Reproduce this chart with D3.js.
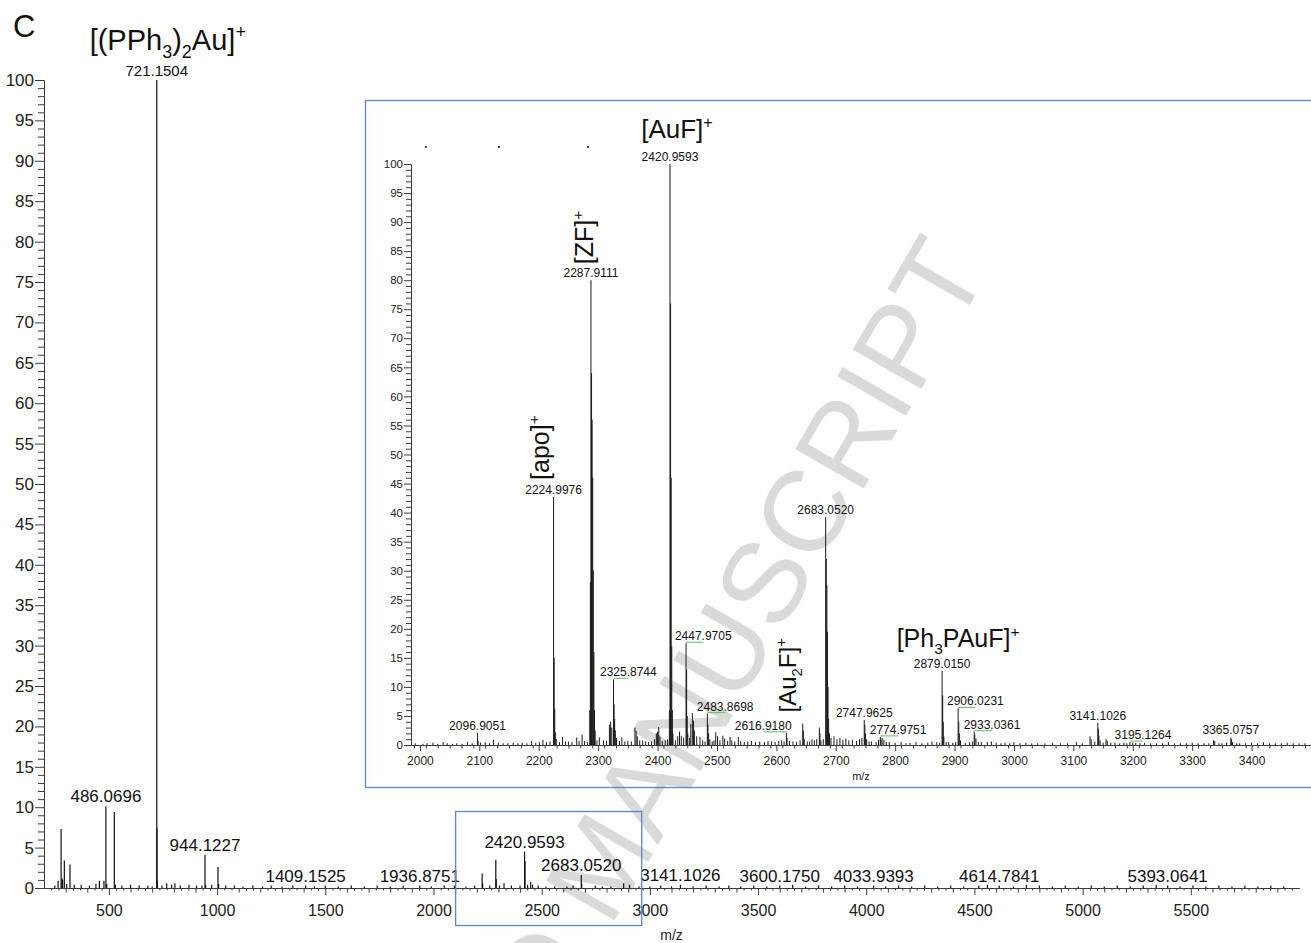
<!DOCTYPE html>
<html>
<head>
<meta charset="utf-8">
<script src="https://cdn.jsdelivr.net/npm/d3@7"></script>
<style>
body { margin: 0; background: #fff; }
svg { font-family: "Liberation Sans", Arial, sans-serif; display: block; }
</style>
</head>
<body>
<svg id="chart" width="1311" height="943"></svg>
<script>
// ---- main spectrum (m/z, relative intensity %) ----
const mainMz = [
  250, 265, 279, 283, 286, 294, 305, 320, 340, 372,
  410, 440, 456, 477, 486.0696, 490, 525, 530, 560, 600,
  640, 680, 700, 721.1504, 722.2, 723.5, 745, 767, 790, 805,
  830, 870, 905, 930, 944.1227, 947, 975, 1004, 1007, 1040,
  1080, 1120, 1165, 1210, 1250, 1300, 1350, 1409.1525, 1450, 1500,
  1560, 1620, 1680, 1740, 1800, 1860, 1936.8751, 1990, 2050, 2097,
  2150, 2190, 2225, 2227, 2260, 2288, 2290, 2305, 2326, 2360,
  2400, 2420.9593, 2423, 2435, 2449, 2458, 2484, 2520, 2560, 2617,
  2645, 2683.0520, 2685, 2748, 2780, 2820, 2879, 2906, 2950, 3000,
  3050, 3100, 3141.1026, 3200, 3260, 3320, 3365, 3420, 3480, 3540,
  3600.1750, 3660, 3720, 3780, 3840, 3900, 3960, 4033.9393, 4090, 4150,
  4210, 4270, 4330, 4390, 4450, 4520, 4560, 4614.7841, 4680, 4740,
  4800, 4860, 4920, 4980, 5040, 5100, 5160, 5220, 5280, 5340,
  5393.0641, 5450, 5510, 5570, 5630, 5690, 5750, 5810, 5870, 5930
];
const mainInt = [
  0.3, 0.9, 7.3, 1.2, 1.0, 3.4, 0.5, 2.9, 0.4, 0.4,
  0.3, 0.5, 0.9, 0.9, 10.1, 0.5, 9.4, 0.4, 0.3, 0.4,
  0.3, 0.3, 0.2, 100, 7.4, 0.9, 0.3, 0.6, 0.4, 0.6,
  0.3, 0.4, 0.3, 0.3, 4.1, 0.4, 0.4, 2.6, 0.5, 0.3,
  0.3, 0.2, 0.3, 0.2, 0.3, 0.2, 0.3, 0.3, 0.2, 0.3,
  0.2, 0.3, 0.2, 0.3, 0.2, 0.3, 0.3, 0.2, 0.3, 0.3,
  0.2, 0.3, 1.8, 0.6, 0.3, 3.5, 1.1, 0.3, 0.6, 0.3,
  0.3, 4.5, 3.3, 0.4, 0.7, 0.4, 0.3, 0.2, 0.2, 0.2,
  0.3, 1.6, 0.5, 0.3, 0.2, 0.2, 0.6, 0.4, 0.2, 0.2,
  0.3, 0.2, 0.4, 0.2, 0.3, 0.2, 0.3, 0.2, 0.3, 0.2,
  0.3, 0.4, 0.2, 0.3, 0.2, 0.3, 0.2, 0.3, 0.2, 0.3,
  0.2, 0.3, 0.2, 0.3, 0.2, 0.3, 0.4, 0.3, 0.2, 0.4,
  0.3, 0.2, 0.3, 0.2, 0.3, 0.2, 0.3, 0.2, 0.3, 0.4,
  0.3, 0.2, 0.3, 0.2, 0.3, 0.2, 0.3, 0.2, 0.3, 0.2
];
const mainLabels = ["721.1504", "486.0696", "944.1227", "1409.1525", "1936.8751", "2420.9593",
  "2683.0520", "3141.1026", "3600.1750", "4033.9393", "4614.7841", "5393.0641"];
const mainXTicks = [500, 1000, 1500, 2000, 2500, 3000, 3500, 4000, 4500, 5000, 5500];
const mainYTicks = [0, 5, 10, 15, 20, 25, 30, 35, 40, 45, 50, 55, 60, 65, 70, 75, 80, 85, 90, 95, 100];

// ---- inset: zoom 2000-3500 ----
const insetMz = [
  1992, 2005, 2012, 2022, 2030, 2039, 2046, 2055, 2062, 2071,
  2080, 2088, 2096.9051, 2098, 2102, 2110, 2117, 2124, 2132, 2140,
  2148, 2157, 2165, 2172, 2180, 2188, 2195, 2201, 2207, 2213,
  2219, 2224.9976, 2226, 2227, 2228, 2229.5, 2235, 2240, 2245, 2250,
  2256, 2264, 2268, 2273, 2277, 2282, 2285.9, 2286.9, 2287.9111, 2288.9,
  2289.9, 2290.9, 2291.9, 2292.9, 2293.9, 2295, 2298, 2302, 2309, 2314,
  2319, 2321, 2323, 2325.8744, 2326.9, 2327.9, 2329, 2331, 2336, 2340,
  2345, 2350, 2356, 2362, 2364, 2366, 2370, 2375, 2380, 2385,
  2390, 2395, 2398, 2400, 2402, 2404, 2408, 2413, 2417, 2419.96,
  2420.9593, 2421.96, 2422.96, 2423.96, 2424.96, 2426, 2430, 2434, 2437, 2440,
  2444, 2447.9705, 2448.97, 2449.97, 2451, 2454, 2456, 2458.6, 2460.6, 2462,
  2466, 2471.5, 2476, 2480, 2483.8698, 2484.87, 2486, 2488, 2492, 2495,
  2498, 2501, 2505, 2510, 2513, 2518, 2522, 2525, 2530, 2536,
  2540, 2546, 2552, 2558, 2565, 2572, 2580, 2586, 2592, 2598,
  2604, 2609, 2613, 2616.918, 2618, 2622, 2628, 2634, 2640, 2644.4,
  2645.4, 2647, 2652, 2656, 2660, 2664, 2668, 2672.4, 2673.4, 2675,
  2679, 2683.052, 2684.05, 2685.05, 2686.05, 2687.05, 2688, 2689.5, 2692, 2697,
  2702, 2707, 2712, 2717, 2722, 2728, 2735, 2740, 2744, 2747.9625,
  2748.96, 2750, 2752, 2756, 2760, 2768, 2772, 2774.9751, 2776, 2778,
  2781, 2785, 2790, 2800, 2810, 2818, 2825, 2835, 2845, 2855,
  2862, 2870, 2875, 2879.015, 2880.02, 2881, 2882, 2886, 2890, 2897,
  2902, 2906.0231, 2907.02, 2908, 2910, 2918, 2925, 2930, 2933.0361, 2934,
  2936, 2940, 2945, 2955, 2962, 2970, 2978, 2985, 2993, 3000,
  3010, 3020, 3030, 3040, 3052, 3065, 3078, 3090, 3105, 3115,
  3128, 3130, 3136, 3141.1026, 3142.1, 3143, 3145, 3150, 3155, 3157,
  3163, 3170, 3178, 3185, 3190, 3195.1264, 3200, 3205, 3212, 3220,
  3230, 3240, 3250, 3260, 3270, 3280, 3290, 3300, 3310, 3320,
  3328, 3336, 3338, 3345, 3350, 3358, 3365.0757, 3366, 3368, 3375,
  3380, 3390, 3400, 3410, 3420, 3430, 3440, 3450, 3460, 3470,
  3480, 3490
];
const insetInt = [
  0.3, 0.2, 0.3, 0.4, 0.2, 0.5, 0.3, 0.2, 0.3, 0.2,
  0.5, 0.3, 2.1, 0.7, 0.4, 0.5, 0.3, 0.9, 0.4, 0.3,
  0.3, 0.4, 0.3, 0.4, 0.3, 0.7, 0.4, 0.5, 0.9, 0.5,
  0.6, 42.7, 15, 6.2, 2.2, 1, 0.5, 1.4, 0.6, 0.6,
  0.5, 1.3, 0.7, 1.8, 0.7, 0.5, 6, 28, 80, 64,
  56, 46, 30, 16, 6, 2.5, 0.8, 1.3, 0.8, 0.7,
  3.5, 4, 3, 11.3, 7, 4.5, 2.5, 1.2, 0.7, 1.3,
  0.6, 0.7, 0.6, 3, 2.4, 1.5, 0.8, 0.8, 0.6, 0.5,
  0.6, 1, 2, 2.3, 3.1, 1.5, 0.7, 0.8, 1, 6,
  100, 76, 46, 17, 6, 2, 0.8, 1.5, 2.3, 1.6,
  1.3, 17.5, 13, 5, 2, 1.2, 3.6, 5.5, 4.2, 2.5,
  1.5, 1.4, 0.8, 0.6, 5.4, 3.5, 2, 1, 0.6, 0.8,
  2.2, 1.5, 0.8, 1.6, 1.1, 0.7, 1.4, 0.8, 0.6, 1.4,
  0.7, 0.5, 0.6, 0.7, 0.5, 0.6, 0.5, 0.7, 0.6, 0.5,
  0.7, 0.8, 0.6, 2.1, 1.2, 0.7, 0.6, 0.5, 0.8, 3.7,
  2.5, 1, 0.6, 0.6, 1, 0.8, 1, 3, 2, 0.8,
  1, 39.2, 32, 27.5, 19.5, 10, 4.5, 2, 1.2, 1.5,
  1, 1.2, 0.9, 1.1, 0.8, 0.9, 0.7, 1, 1.2, 4.3,
  3.5, 2, 1, 0.6, 0.6, 0.5, 0.9, 1.4, 1, 1.2,
  0.9, 0.5, 0.5, 0.4, 0.5, 0.3, 0.4, 0.5, 0.3, 0.4,
  0.6, 0.5, 0.4, 12.8, 8.5, 4, 1.5, 0.5, 0.5, 0.4,
  0.5, 6.3, 4, 2, 0.8, 0.4, 0.5, 0.6, 2.3, 1.8,
  1.1, 0.5, 0.5, 0.5, 0.6, 0.4, 0.3, 0.4, 0.3, 0.5,
  0.3, 0.4, 0.3, 0.3, 0.3, 0.4, 0.3, 0.3, 0.5, 0.3,
  1.5, 1, 0.6, 3.8, 2.8, 1.6, 0.8, 0.4, 1, 0.7,
  0.4, 0.4, 0.3, 0.4, 0.3, 0.5, 0.4, 0.4, 0.3, 0.4,
  0.3, 0.3, 0.3, 0.5, 0.3, 0.3, 0.3, 0.4, 0.3, 0.3,
  0.3, 0.8, 0.7, 0.3, 0.3, 0.4, 1.3, 1, 0.5, 0.3,
  0.3, 0.3, 0.4, 0.3, 0.5, 0.3, 0.3, 0.3, 0.4, 0.3,
  0.3, 0.3
];
const insetLabels = ["2096.9051", "2224.9976", "2287.9111", "2325.8744", "2420.9593", "2447.9705",
  "2483.8698", "2616.9180", "2683.0520", "2747.9625", "2774.9751", "2879.0150", "2906.0231",
  "2933.0361", "3141.1026", "3195.1264", "3365.0757"];
// label offset from its peak, in m/z units (drawn with a green leader)
const insetLabelShift = [0, 0, 0, 25, 0, 29, 30, -39, 0, 0, 30, 0, 29, 30, 0, 22, 0];
const insetXTicks = [2000, 2100, 2200, 2300, 2400, 2500, 2600, 2700, 2800, 2900, 3000, 3100, 3200, 3300, 3400];
const insetYTicks = mainYTicks;
const insetMarkMz = [2010, 2133, 2283];

// ion annotations: [text, 0 normal / -1 sub / 1 sup]
const ionMain = [["[(PPh", 0], ["3", -1], [")", 0], ["2", -1], ["Au]", 0], ["+", 1]];
const ionAuF = [["[AuF]", 0], ["+", 1]];
const ionZF = [["[ZF]", 0], ["+", 1]];
const ionApo = [["[apo]", 0], ["+", 1]];
const ionAu2F = [["[Au", 0], ["2", -1], ["F]", 0], ["+", 1]];
const ionPh3 = [["[Ph", 0], ["3", -1], ["PAuF]", 0], ["+", 1]];

const svg = d3.select("#chart");
const ink = "#111";
const axisCol = "#3a3a3a";
const boxCol = "#5b87c8";
const fmt = d3.format("d");

// watermark sits behind everything
svg.append("text")
  .attr("transform", "translate(990,270) rotate(-60)")
  .attr("text-anchor", "end")
  .attr("font-size", 115)
  .attr("fill", "#dadada")
  .text("ACCEPTED MANUSCRIPT");

function styleAxis(g, fs, col) {
  g.attr("font-family", null).attr("font-size", fs);
  g.selectAll("path,line").attr("stroke", axisCol);
  g.selectAll("text").attr("fill", col || "#222");
}

function nearest(mzArr, v) {
  let best = 0;
  mzArr.forEach((m, i) => { if (Math.abs(m - v) < Math.abs(mzArr[best] - v)) best = i; });
  return best;
}

function addIon(g, parts, size) {
  const t = g.append("text").attr("font-size", size).attr("fill", ink);
  let shift = 0;
  parts.forEach(([s, k]) => {
    const fs = k === 0 ? size : size * 0.62;
    const target = k === -1 ? size * 0.28 : (k === 1 ? -size * 0.4 : 0);
    t.append("tspan").attr("font-size", fs).attr("dy", target - shift).text(s);
    shift = target;
  });
  return t;
}

// ===== main plot =====
const x = d3.scaleLinear().domain([200, 6000]).range([44, 1299]);
const y = d3.scaleLinear().domain([0, 100]).range([888, 80]);

// y axis
const yMinor = d3.range(0, 101).filter(v => v % 5);
svg.append("g").attr("transform", "translate(44,0)")
  .call(d3.axisLeft(y).tickValues(yMinor).tickSize(6).tickFormat("").tickSizeOuter(0))
  .call(g => styleAxis(g, 17));
svg.append("g").attr("transform", "translate(44,0)")
  .call(d3.axisLeft(y).tickValues(mainYTicks).tickSize(9).tickPadding(1).tickSizeOuter(0))
  .call(g => styleAxis(g, 17));

// x axis
const xMinor = d3.range(0, 175).map(i => 200 + i * 100 / 3).filter(v => Math.abs(v / 100 - Math.round(v / 100)) > 0.01);
const xMid = d3.range(300, 6001, 100).filter(v => v % 500);
svg.append("g").attr("transform", "translate(0,888)")
  .call(d3.axisBottom(x).tickValues(xMinor).tickSize(2.5).tickFormat("").tickSizeOuter(0))
  .call(g => styleAxis(g, 16));
svg.append("g").attr("transform", "translate(0,888)")
  .call(d3.axisBottom(x).tickValues(xMid).tickSize(4.5).tickFormat("").tickSizeOuter(0))
  .call(g => styleAxis(g, 16));
svg.append("g").attr("transform", "translate(0,888)")
  .call(d3.axisBottom(x).tickValues(mainXTicks).tickFormat(fmt).tickSize(7).tickPadding(10).tickSizeOuter(0))
  .call(g => styleAxis(g, 16));

svg.append("text").attr("x", (x.range()[0] + x.range()[1]) / 2).attr("y", 940)
  .attr("text-anchor", "middle").attr("font-size", 14).attr("fill", "#222").text("m/z");

// sticks
svg.append("g").selectAll("line").data(mainMz).join("line")
  .attr("x1", d => x(d)).attr("x2", d => x(d))
  .attr("y1", y(0)).attr("y2", (d, i) => y(mainInt[i]))
  .attr("stroke", ink).attr("stroke-width", 1.2);

// peak labels
svg.append("g").selectAll("text").data(mainLabels).join("text")
  .attr("x", d => x(+d))
  .attr("y", d => y(mainInt[nearest(mainMz, +d)]) - 4)
  .attr("text-anchor", "middle")
  .attr("font-size", (d, i) => i === 0 ? 15 : 17)
  .attr("fill", ink)
  .text(d => d);

// small box marking the zoomed region
svg.append("rect")
  .attr("x", x(2100) + 0.5).attr("y", 811.5)
  .attr("width", x(2960) - x(2100)).attr("height", 114)
  .attr("fill", "none").attr("stroke", boxCol).attr("stroke-width", 1.3);

// ===== inset =====
const xi = d3.scaleLinear().domain([1985, 3500]).range([411, 1311]);
const yi = d3.scaleLinear().domain([0, 100]).range([745, 164]);

svg.append("rect").attr("x", 365.5).attr("y", 100.5).attr("width", 960).attr("height", 687)
  .attr("fill", "none").attr("stroke", boxCol).attr("stroke-width", 1.3);

svg.append("g").selectAll("rect").data(insetMarkMz).join("rect")
  .attr("x", d => xi(d) - 1).attr("y", 146).attr("width", 2).attr("height", 2)
  .attr("fill", "#3b3ba8");

svg.append("g").attr("transform", "translate(411,0)")
  .call(d3.axisLeft(yi).tickValues(yMinor).tickSize(5).tickFormat("").tickSizeOuter(0))
  .call(g => styleAxis(g, 11.5));
svg.append("g").attr("transform", "translate(411,0)")
  .call(d3.axisLeft(yi).tickValues(insetYTicks).tickSize(7).tickPadding(1).tickSizeOuter(0))
  .call(g => styleAxis(g, 11.5));

const xiMinor = d3.range(1990, 3501, 20).filter(v => v % 100);
svg.append("g").attr("transform", "translate(0,745)")
  .call(d3.axisBottom(xi).tickValues(xiMinor).tickSize(3.5).tickFormat("").tickSizeOuter(0))
  .call(g => styleAxis(g, 12));
svg.append("g").attr("transform", "translate(0,745)")
  .call(d3.axisBottom(xi).tickValues(insetXTicks).tickFormat(fmt).tickSize(6).tickPadding(5).tickSizeOuter(0))
  .call(g => styleAxis(g, 12));

svg.append("text").attr("x", (xi.range()[0] + xi.range()[1]) / 2).attr("y", 780)
  .attr("text-anchor", "middle").attr("font-size", 11).attr("fill", "#222").text("m/z");

svg.append("g").selectAll("line").data(insetMz).join("line")
  .attr("x1", d => xi(d)).attr("x2", d => xi(d))
  .attr("y1", yi(0)).attr("y2", (d, i) => yi(insetInt[i]))
  .attr("stroke", "#1a1a1a").attr("stroke-width", 1);

// green leaders for shifted labels
svg.append("g").selectAll("line").data(insetLabels.filter((d, i) => insetLabelShift[i] !== 0)).join("line")
  .attr("x1", d => xi(+d))
  .attr("x2", d => xi(+d + insetLabelShift[insetLabels.indexOf(d)]))
  .attr("y1", d => yi(insetInt[nearest(insetMz, +d)]) - 1)
  .attr("y2", d => yi(insetInt[nearest(insetMz, +d)]) - 1)
  .attr("stroke", "#7cc47c").attr("stroke-width", 1.2);

svg.append("g").selectAll("text").data(insetLabels).join("text")
  .attr("x", (d, i) => xi(+d + insetLabelShift[i]))
  .attr("y", d => yi(insetInt[nearest(insetMz, +d)]) - 3)
  .attr("text-anchor", "middle")
  .attr("font-size", 12)
  .attr("fill", ink)
  .text(d => d);

// ===== ion annotations =====
svg.append("text").attr("x", 13).attr("y", 37).attr("font-size", 31).attr("fill", ink).text("C");

addIon(svg, ionMain, 29)
  .attr("x", x(721.1504) + 11).attr("y", y(100) - 30).attr("text-anchor", "middle");
addIon(svg, ionAuF, 26)
  .attr("x", xi(2420.9593) + 7).attr("y", yi(100) - 26).attr("text-anchor", "middle");
addIon(svg, ionPh3, 25)
  .attr("x", xi(2879.015) + 16).attr("y", yi(12.8) - 24).attr("text-anchor", "middle");
addIon(svg.append("g").attr("transform", `translate(${xi(2287.9111) + 2},${yi(80) - 16}) rotate(-90)`), ionZF, 25);
addIon(svg.append("g").attr("transform", `translate(${xi(2224.9976) - 5},${yi(42.7) - 17}) rotate(-90)`), ionApo, 25);
addIon(svg.append("g").attr("transform", `translate(${xi(2644.4) - 7},${yi(3.7) - 11}) rotate(-90)`), ionAu2F, 24);
</script>
</body>
</html>
